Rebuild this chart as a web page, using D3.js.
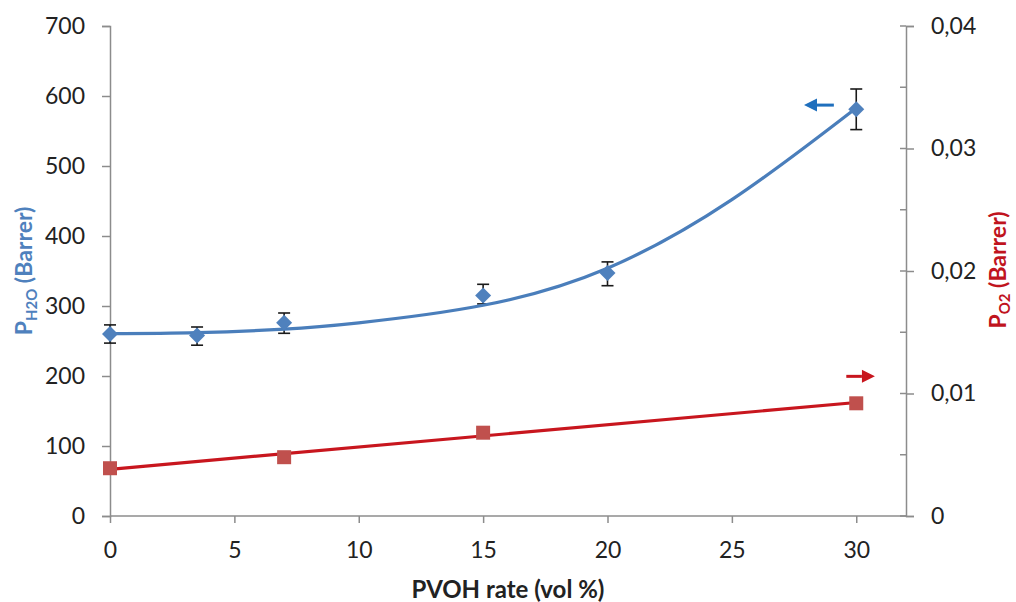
<!DOCTYPE html>
<html><head><meta charset="utf-8">
<script src="https://cdn.jsdelivr.net/npm/d3@7"></script>
<style>body{margin:0;background:#fff}svg{display:block}text{font-family:Lato,"Open Sans",sans-serif}</style>
</head><body><svg id="c" width="1016" height="602"></svg>
<script>
// Data
const h2oX = [0, 3.5, 7, 15, 20, 30];
const h2oY = [260, 258, 276, 315, 347, 581];
const h2oLow = [247, 244, 261, 303, 329, 552];
const h2oHigh = [273, 270, 290, 331, 363, 610];
// H2O trend curve
const h2oTrendX = [0, 3.5, 7, 10, 15, 20, 25, 30];
const h2oTrendY = [260.5, 262, 267, 276, 301, 354, 452, 583];
const o2X = [0, 7, 15, 30];
const o2Y = [0.0039, 0.0048, 0.0068, 0.0092];
const xTicks = [0, 5, 10, 15, 20, 25, 30];
const leftTicks = [0, 100, 200, 300, 400, 500, 600, 700];
const rightTicks = [0, 0.01, 0.02, 0.03, 0.04];
const rightMinor = [0.005, 0.015, 0.025, 0.035];
const blueArrow = {x1: 29.1, x2: 27.9, y: 587};
const redArrow = {x1: 29.6, x2: 30.75, y: 0.0114};

const svg = d3.select("#c");
const L = 110, R = 906, T = 26, B = 516;
const x = d3.scaleLinear().domain([0, 32]).range([L, R]);
const yL = d3.scaleLinear().domain([0, 700]).range([B, T]);
const yR = d3.scaleLinear().domain([0, 0.04]).range([B, T]);
const axisCol = "#8c8c8c";
const blue = "#4a7ebb", blueM = "#4f81bd", red = "#c8161e", redM = "#c0504d";

// linear least squares for the O2 trend line
function linfit(xs, ys) {
  const mx = d3.mean(xs), my = d3.mean(ys);
  let sxy = 0, sxx = 0;
  xs.forEach((v, i) => { sxy += (v - mx) * (ys[i] - my); sxx += (v - mx) * (v - mx); });
  const b = sxy / sxx;
  return [my - b * mx, b];
}
const cr = linfit(o2X, o2Y);

// Axes
const fmtR = d => d === 0 ? "0" : d3.format(".2f")(d).replace(".", ",");
const gx = svg.append("g").attr("transform", `translate(0,${B})`)
  .call(d3.axisBottom(x).tickValues(xTicks).tickSize(7).tickPadding(19).tickFormat(d3.format("d")));
const gl = svg.append("g").attr("transform", `translate(${L},0)`)
  .call(d3.axisLeft(yL).tickValues(leftTicks).tickSize(8).tickPadding(17));
const gr = svg.append("g").attr("transform", `translate(${R},0)`)
  .call(d3.axisRight(yR).tickValues(rightTicks).tickSize(8).tickPadding(17).tickFormat(fmtR));
svg.append("g").selectAll("line").data(rightTicks.concat(rightMinor)).join("line")
  .attr("x1", R - 6).attr("x2", R).attr("y1", d => yR(d)).attr("y2", d => yR(d))
  .attr("stroke", axisCol).attr("stroke-width", 1.5);
[gx, gl, gr].forEach(g => {
  g.select(".domain").attr("stroke", axisCol).attr("stroke-width", 1.5);
  g.selectAll(".tick line").attr("stroke", axisCol).attr("stroke-width", 1.5);
  g.selectAll("text").attr("fill", "#222").style("font-size", "23px");
});
gx.select(".domain").attr("d", `M${L},0H${R}`);

// Red linear trend line
svg.append("path")
  .attr("d", d3.line().x(d => x(d)).y(d => yR(cr[0] + cr[1] * d))([0, 30]))
  .attr("fill", "none").attr("stroke", red).attr("stroke-width", 3.2);
svg.append("g").selectAll("rect").data(o2X).join("rect")
  .attr("x", d => x(d) - 7).attr("y", (d, i) => yR(o2Y[i]) - 7)
  .attr("width", 14).attr("height", 14).attr("fill", redM);

// Blue error bars
const eb = svg.append("g").attr("stroke", "#1a1a1a").attr("stroke-width", 1.6);
h2oX.forEach((v, i) => {
  eb.append("line").attr("x1", x(v)).attr("x2", x(v)).attr("y1", yL(h2oLow[i])).attr("y2", yL(h2oHigh[i]));
  [h2oLow[i], h2oHigh[i]].forEach(w => eb.append("line").attr("x1", x(v) - 6).attr("x2", x(v) + 6).attr("y1", yL(w)).attr("y2", yL(w)));
});
// Blue trend curve
svg.append("path")
  .attr("d", d3.line().curve(d3.curveNatural).x(d => x(d)).y((d, i) => yL(h2oTrendY[i]))(h2oTrendX))
  .attr("fill", "none").attr("stroke", blue).attr("stroke-width", 3.2);
svg.append("g").selectAll("path").data(h2oX).join("path")
  .attr("d", (d, i) => { const cx = x(d), cy = yL(h2oY[i]), s = 8; return `M${cx},${cy - s}L${cx + s},${cy}L${cx},${cy + s}L${cx - s},${cy}Z`; })
  .attr("fill", blueM);

// Arrows
function arrow(x1, x2, y, col) {
  const dir = Math.sign(x2 - x1);
  const hx = x2 - dir * 13;
  svg.append("line").attr("x1", x1).attr("x2", hx).attr("y1", y).attr("y2", y).attr("stroke", col).attr("stroke-width", 3);
  svg.append("path").attr("d", `M${x2},${y}L${hx},${y - 6.5}L${hx},${y + 6.5}Z`).attr("fill", col);
}
arrow(x(blueArrow.x1), x(blueArrow.x2), yL(blueArrow.y), "#1f6fbd");
arrow(x(redArrow.x1), x(redArrow.x2), yR(redArrow.y), "#c8161e");

// Axis titles
svg.append("text").attr("x", 508).attr("y", 598).attr("text-anchor", "middle")
  .style("font-size", "24px").style("font-weight", "bold").attr("fill", "#222").text("PVOH rate (vol %)");
const lt = svg.append("text").attr("transform", "translate(32,271) rotate(-90)").attr("text-anchor", "middle")
  .style("font-size", "23px").style("font-weight", "bold").attr("fill", "#4f81bd");
lt.append("tspan").text("P");
lt.append("tspan").attr("dy", 5).style("font-size", "15px").text("H2O");
lt.append("tspan").attr("dy", -5).text(" (Barrer)");
const rt = svg.append("text").attr("transform", "translate(1006,270) rotate(-90)").attr("text-anchor", "middle")
  .style("font-size", "23px").style("font-weight", "bold").attr("fill", "#c0141e");
rt.append("tspan").text("P");
rt.append("tspan").attr("dy", 4).style("font-size", "15px").text("O2");
rt.append("tspan").attr("dy", -4).text(" (Barrer)");
</script></body></html>
